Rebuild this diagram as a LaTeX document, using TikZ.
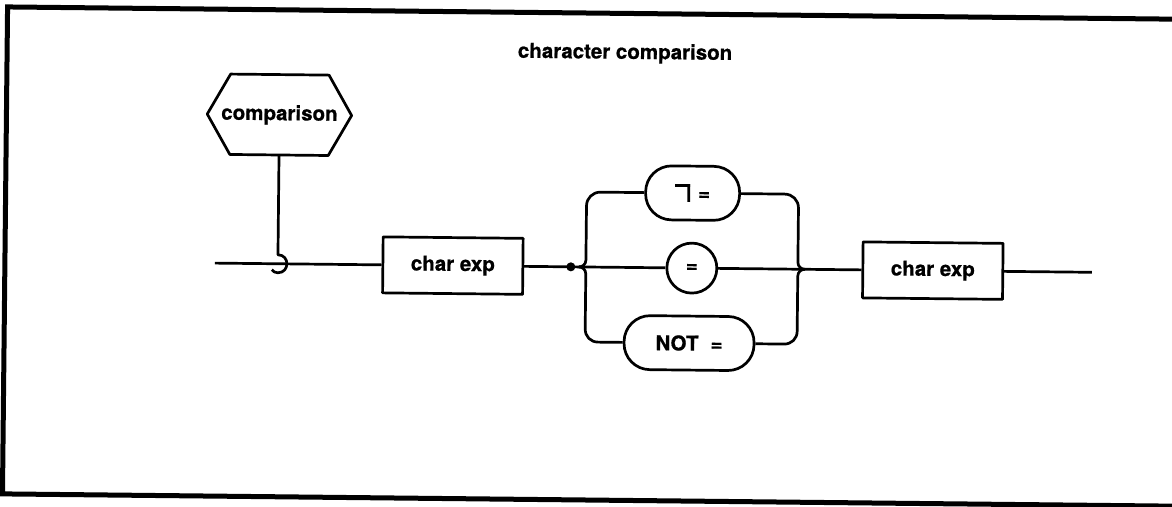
\documentclass[tikz,border=0pt]{standalone}
\usepackage{fontspec}
\setmainfont{TeX Gyre Heros}[BoldFeatures={FakeBold=0.7}]
\newcommand\mynotsign{\makebox[15pt][l]{\rule[13pt]{15pt}{2.8pt}\hspace{-2.8pt}\rule[-2pt]{2.8pt}{17.8pt}}}
\begin{document}
\begin{tikzpicture}[x=1pt,y=-1pt,
  ln/.style={line width=2.7pt, line join=round},
  lbl/.style={font=\fontsize{20.5}{24}\selectfont\bfseries},
  boxn/.style={ln, draw, lbl, minimum width=140pt, minimum height=56pt, inner sep=0pt},
  pill/.style={ln, draw, lbl, rounded corners=26pt, minimum height=54pt, inner sep=0pt},
  roundn/.style={ln, draw, lbl, circle, minimum size=50pt, inner sep=0pt},
  hexn/.style={lbl, minimum width=144pt, minimum height=80pt, inner sep=0pt}]
\useasboundingbox (0,0) rectangle (1172,506);
\fill[white] (0,0) rectangle (1172,506);
\begin{scope}[rotate around={-0.6:(586,253)}, transform shape]
  % frame
  \draw[line width=5pt] (1200,13) -- (5,13) -- (5,500) -- (1200,500);
  % title
  \node[lbl] (title) at (623,53) {character comparison};
  % hexagon
  \node[hexn] (cmp) at (278,118) {comparison};
  \draw[ln] (cmp.west) -- ([xshift=23pt]cmp.north west) -- ([xshift=-23pt]cmp.north east)
     -- (cmp.east) -- ([xshift=-23pt]cmp.south east) -- ([xshift=23pt]cmp.south west) -- cycle;
  % boxes and terminals
  \node[boxn] (b1) at (453,267) {char exp};
  \node[boxn] (b2) at (933,267) {char exp};
  \node[pill, minimum width=94pt] (ne) at (692,192) {\mynotsign\hspace{8pt}=};
  \node[roundn] (eq) at (692,267) {=};
  \node[pill, minimum width=130pt] (nt) at (690,342) {NOT\hspace{12pt}=};
  % coordinates
  \coordinate (start) at (215,267);
  \coordinate (hk) at (278,258);
  \coordinate (dot) at (571,267);
  \coordinate (cl) at (579,267);
  \coordinate (cr) at (805,267);
  \coordinate (fin) at (1092,267);
  % main line
  \draw[ln] (start) -- (b1.west);
  \draw[ln] (cmp.south) -- (hk) .. controls (290,258) and (290,276) .. (278,276)
     .. controls (275.5,276) and (273.5,275) .. (272,273);
  \draw[ln] (b1.east) -- (cl) -- (eq.west);
  \fill (dot) circle[radius=4.5pt];
  \draw[ln] (eq.east) -- (b2.west);
  \draw[ln] (b2.east) -- (fin);
  % left brace
  \draw[ln] (ne.west) -- (600,192) .. controls (592,192) and (586,198) .. (586,206)
     -- (586,260) .. controls (586,264.5) and (582.5,267) .. (cl);
  \draw[ln] (cl) .. controls (582.5,267) and (586,269.5) .. (586,274)
     -- (586,329) .. controls (586,336.5) and (591.5,342) .. (599,342) -- (nt.west);
  % right brace
  \draw[ln] (ne.east) -- (784,192) .. controls (792,192) and (798,198) .. (798,206)
     -- (798,260) .. controls (798,264.5) and (801.5,267) .. (cr);
  \draw[ln] (cr) .. controls (801.5,267) and (798,269.5) .. (798,274)
     -- (798,329) .. controls (798,336.5) and (792.5,342) .. (785,342) -- (nt.east);
\end{scope}
\end{tikzpicture}
\end{document}
